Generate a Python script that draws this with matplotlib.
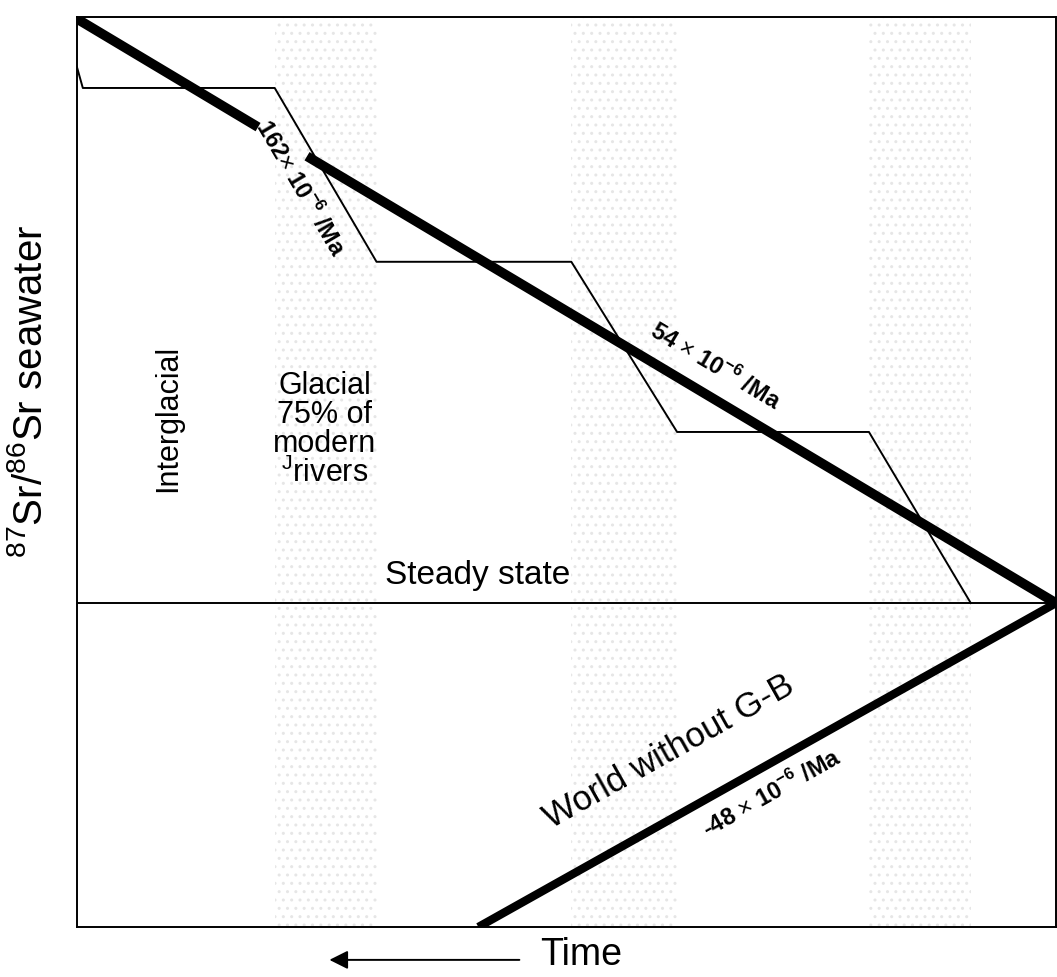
import matplotlib
matplotlib.use("Agg")
import matplotlib.pyplot as plt

plt.rcParams['font.family'] = ['Liberation Sans', 'DejaVu Sans']
plt.rcParams['mathtext.fontset'] = 'custom'
plt.rcParams['mathtext.rm'] = 'Liberation Sans'
plt.rcParams['mathtext.bf'] = 'Liberation Sans:bold'

# Time (arbitrary units, 0 = oldest on left, 10 = present) and 87Sr/86Sr (arbitrary units)
stair_x = [0.0, 0.06, 2.02, 3.06, 5.05, 6.13, 8.09, 9.13]
stair_y = [9.45, 9.22, 9.22, 7.31, 7.31, 5.44, 5.44, 3.56]
steady_x = [0.0, 10.0]
steady_y = [3.56, 3.56]
trend1_x = [0.0, 1.85]
trend1_y = [9.98, 8.79]
trend2_x = [2.35, 10.0]
trend2_y = [8.47, 3.56]
world_x = [4.10, 10.0]
world_y = [0.0, 3.56]
glacial_bands = [(2.02, 3.06), (5.05, 6.13), (8.09, 9.13)]

fig = plt.figure(figsize=(10.57, 9.78), dpi=100)
ax = fig.add_axes([0.0728, 0.0511, 0.9262, 0.9305])
ax.set_xlim(0, 10)
ax.set_ylim(0, 10)
ax.set_xticks([])
ax.set_yticks([])
for s in ax.spines.values():
    s.set_linewidth(1.4)

for a, b in glacial_bands:
    ax.axvspan(a, b, facecolor='none', edgecolor='#e6e6e6', hatch='..', linewidth=0, zorder=0)

ax.plot(stair_x, stair_y, color='black', lw=1.4, zorder=2)
ax.plot(steady_x, steady_y, color='black', lw=1.4, zorder=2)
ax.plot(trend1_x, trend1_y, color='black', lw=7, solid_capstyle='butt', zorder=3)
ax.plot(trend2_x, trend2_y, color='black', lw=7, solid_capstyle='butt', zorder=3)
ax.plot(world_x, world_y, color='black', lw=6, solid_capstyle='butt', zorder=3)

fig.text(0.0284, 0.600, r'$^{\mathregular{87}}$Sr/$^{\mathregular{86}}$Sr seawater',
         rotation=90, fontsize=29, ha='center', va='center')

ax.text(0.93, 5.60, 'Interglacial', rotation=90, fontsize=22, ha='center', va='center')
ax.text(2.53, 5.47, 'Glacial\n75% of\nmodern\n' + r'$^{\mathregular{J}}$rivers',
        fontsize=22, ha='center', va='center', linespacing=0.95)
ax.text(4.09, 3.87, 'Steady state', fontsize=24, ha='center', va='center')
ax.text(2.28, 8.13, r'162$\times$ 10$^{\mathbf{-6}}$ /Ma', rotation=-59.6, fontsize=17,
        fontweight='bold', ha='center', va='center')
ax.text(6.52, 6.18, r'54 $\times$ 10$^{\mathbf{-6}}$ /Ma', rotation=-30.8, fontsize=17,
        fontweight='bold', ha='center', va='center')
ax.text(6.05, 1.93, 'World without G-B', rotation=29.3, fontsize=25, ha='center', va='center')
ax.text(7.10, 1.48, r'-48 $\times$ 10$^{\mathbf{-6}}$ /Ma', rotation=29.3, fontsize=17,
        fontweight='bold', ha='center', va='center')

fig.text(0.511, 0.005, 'Time', fontsize=27, ha='left', va='bottom')
fig.add_artist(matplotlib.patches.FancyArrowPatch((0.494, 0.0175), (0.309, 0.0175),
               transform=fig.transFigure, arrowstyle='-|>', mutation_scale=28,
               color='black', lw=1.4))

fig.savefig('out.png', dpi=100)
